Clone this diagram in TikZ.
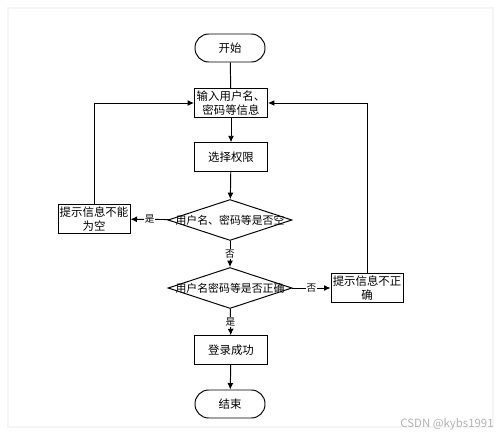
\documentclass[tikz,border=0pt]{standalone}
\usepackage{fontspec}
\setmainfont{Noto Sans CJK SC}
\usetikzlibrary{shapes.geometric,arrows.meta}

\begin{document}
\begin{tikzpicture}[x=0.02cm,y=-0.02cm,font=\fontsize{6.5}{8}\selectfont,>={Latex[length=1.3mm,width=1.2mm]},line width=0.55pt,
  term/.style={draw,rounded corners=7.8pt,minimum width=1.4cm,minimum height=0.56cm},
  proc/.style={draw,align=center,minimum width=1.46cm,minimum height=0.57cm,inner sep=1pt},
  chk/.style={draw,diamond,minimum width=2.48cm,minimum height=0.82cm,inner sep=0pt,font=\fontsize{6.2}{7}\selectfont},
  lbl/.style={fill=white,inner sep=0.5pt,font=\fontsize{5.5}{6}\selectfont}]
  \useasboundingbox (0,0) rectangle (502,435);
  \draw[black!4,line width=0.8pt] (8,8) rectangle (493,427);
  \node[term] (start) at (230,48) {开始};
  \node[proc] (input) at (231,103) {输入用户名、\\密码等信息};
  \node[proc] (role) at (231,157) {选择权限};
  \node[chk] (chk1) at (230,220) {\makebox[0pt]{用户名、密码等是否空}};
  \node[proc,minimum width=1.44cm] (warn1) at (94,219) {提示信息不能\\为空};
  \node[chk] (chk2) at (230,288) {\makebox[0pt]{用户名密码等是否正确}};
  \node[proc,minimum width=1.36cm,minimum height=0.54cm] (warn2) at (367,288) {提示信息不正\\确};
  \node[proc] (ok) at (231,350) {登录成功};
  \node[term] (stop) at (230,404) {结束};
  \node[text=black!30,font=\fontsize{6.5}{7}\selectfont,anchor=east] (mark) at (500,424) {CSDN @kybs1991};
  \draw (start) -- (input);
  \draw[->] (input) -- (role);
  \draw[->] (role) -- (chk1);
  \draw[->] (chk1) -- node[lbl]{是} (warn1);
  \draw[->] (chk1) -- node[lbl]{否} (chk2);
  \draw[->] (chk2) -- node[lbl]{否} (warn2);
  \draw[->] (chk2) -- node[lbl]{是} (ok);
  \draw[->] (ok) -- (stop);
  \draw[->] (warn1) |- (input);
  \draw[->] (warn2) |- (input);
\end{tikzpicture}
\end{document}
